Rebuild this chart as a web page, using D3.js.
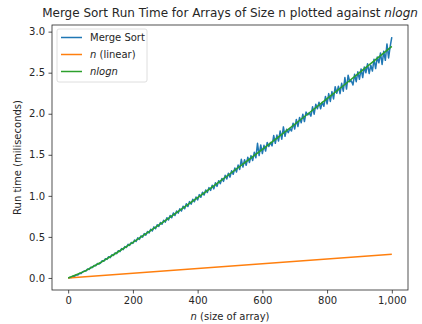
<!DOCTYPE html>
<html>
<head>
<meta charset="utf-8">
<script src="https://cdn.jsdelivr.net/npm/d3@7"></script>
<style>
  body { margin: 0; background: #fff; }
  svg text { font-family: "DejaVu Sans", sans-serif; fill: #262626; }
</style>
</head>
<body>
<div id="chart"></div>
<script>
// n values for the merge sort samples (every 5)
const sortN = d3.range(0, 1001, 5)
const sortTime = [
  0.000, 0.006, 0.007, 0.021, 0.020, 0.038, 0.037, 0.056, 0.055, 0.075,
  0.086, 0.084, 0.108, 0.104, 0.131, 0.127, 0.153, 0.148, 0.175, 0.170,
  0.180, 0.210, 0.203, 0.234, 0.226, 0.259, 0.248, 0.282, 0.274, 0.306,
  0.296, 0.332, 0.320, 0.358, 0.345, 0.382, 0.371, 0.410, 0.396, 0.432,
  0.420, 0.462, 0.444, 0.488, 0.470, 0.512, 0.497, 0.540, 0.522, 0.566,
  0.548, 0.594, 0.572, 0.622, 0.600, 0.648, 0.628, 0.676, 0.655, 0.702,
  0.680, 0.734, 0.706, 0.760, 0.734, 0.792, 0.760, 0.815, 0.790, 0.842,
  0.815, 0.873, 0.842, 0.904, 0.870, 0.930, 0.898, 0.958, 0.928, 0.985,
  0.950, 1.015, 0.982, 1.045, 1.010, 1.072, 1.040, 1.100, 1.066, 1.128,
  1.085, 1.160, 1.115, 1.185, 1.148, 1.212, 1.176, 1.250, 1.205, 1.275,
  1.228, 1.305, 1.262, 1.340, 1.290, 1.375, 1.322, 1.445, 1.350, 1.440,
  1.372, 1.470, 1.405, 1.490, 1.430, 1.530, 1.465, 1.640, 1.490, 1.620,
  1.515, 1.615, 1.545, 1.650, 1.600, 1.650, 1.608, 1.735, 1.640, 1.740,
  1.668, 1.790, 1.690, 1.840, 1.725, 1.810, 1.770, 1.820, 1.790, 1.885,
  1.815, 1.930, 1.845, 1.955, 1.890, 1.995, 1.905, 2.020, 1.985, 2.010,
  1.970, 2.085, 1.995, 2.115, 2.060, 2.140, 2.060, 2.140, 2.090, 2.210,
  2.120, 2.245, 2.150, 2.270, 2.180, 2.330, 2.250, 2.335, 2.245, 2.370,
  2.275, 2.440, 2.300, 2.470, 2.390, 2.400, 2.350, 2.480, 2.390, 2.510,
  2.420, 2.545, 2.440, 2.570, 2.500, 2.610, 2.490, 2.590, 2.520, 2.665,
  2.550, 2.690, 2.620, 2.740, 2.600, 2.760, 2.650, 2.850, 2.680, 2.820,
  2.934
]

const linearN = [0, 1000]
const linearTime = [0, 0.289]

const nlognN = [0, 50, 100, 150, 200, 250, 300, 350, 400, 450, 500,
  550, 600, 650, 700, 750, 800, 850, 900, 950, 1000]
const nlognTime = [0, 0.080, 0.188, 0.307, 0.433, 0.563, 0.699, 0.837, 0.979, 1.122, 1.269,
  1.417, 1.567, 1.719, 1.872, 2.027, 2.183, 2.341, 2.500, 2.659, 2.820]

const xTicks = [0, 200, 400, 600, 800, 1000]
const yTicks = [0.0, 0.5, 1.0, 1.5, 2.0, 2.5, 3.0]

const width = 422, height = 324
const margin = { top: 25, right: 14, bottom: 34, left: 52 }
const iw = width - margin.left - margin.right
const ih = height - margin.top - margin.bottom

const svg = d3.select('#chart')
  .append('svg')
  .attr('width', width)
  .attr('height', height)

// matplotlib style 5% padding
const xPad = 0.05 * 1000
const yMax = d3.max(sortTime)
const yPad = 0.05 * yMax
const x = d3.scaleLinear().domain([-xPad, 1000 + xPad]).range([0, iw])
const y = d3.scaleLinear().domain([-yPad, yMax + yPad]).range([ih, 0])

const g = svg.append('g')
  .attr('transform', `translate(${margin.left},${margin.top})`)

const line = d3.line()
  .x(d => x(d[0]))
  .y(d => y(d[1]))

const series = [
  { name: 'sort', n: sortN, t: sortTime, color: '#1f77b4' },
  { name: 'linear', n: linearN, t: linearTime, color: '#ff7f0e' },
  { name: 'nlogn', n: nlognN, t: nlognTime, color: '#2ca02c' }
]

series.forEach(s => {
  g.append('path')
    .datum(s.n.map((v, i) => [v, s.t[i]]))
    .attr('fill', 'none')
    .attr('stroke', s.color)
    .attr('stroke-width', 1.5)
    .attr('stroke-linejoin', 'round')
    .attr('d', line)
})

// axes
const xAxis = g.append('g')
  .attr('transform', `translate(0,${ih})`)
  .call(d3.axisBottom(x).tickValues(xTicks).tickSize(3.5).tickPadding(3.5))
const yAxis = g.append('g')
  .call(d3.axisLeft(y).tickValues(yTicks).tickFormat(d3.format('.1f')).tickSize(3.5).tickPadding(3.5))

;[xAxis, yAxis].forEach(a => {
  a.select('.domain').remove()
  a.selectAll('.tick line').attr('stroke', '#262626').attr('stroke-width', 0.8)
  a.selectAll('.tick text').attr('font-size', 10).style('fill', '#262626')
    .attr('font-family', '"DejaVu Sans", sans-serif')
})

g.append('rect')
  .attr('width', iw)
  .attr('height', ih)
  .attr('fill', 'none')
  .attr('stroke', '#262626')
  .attr('stroke-width', 0.8)

// title
const title = svg.append('text')
  .attr('x', margin.left + iw / 2)
  .attr('y', 17)
  .attr('text-anchor', 'middle')
  .attr('font-size', 12)
title.append('tspan').text('Merge Sort Run Time for Arrays of Size n plotted against ')
title.append('tspan').attr('font-style', 'italic').text('nlogn')

// axis labels
const xl = svg.append('text')
  .attr('x', margin.left + iw / 2)
  .attr('y', 320)
  .attr('text-anchor', 'middle')
  .attr('font-size', 10)
xl.append('tspan').attr('font-style', 'italic').text('n')
xl.append('tspan').text(' (size of array)')

svg.append('text')
  .attr('transform', `translate(21,${margin.top + ih / 2}) rotate(-90)`)
  .attr('text-anchor', 'middle')
  .attr('font-size', 10)
  .text('Run time (miliseconds)')

// legend
const legend = svg.append('g').attr('transform', 'translate(57,29)')
legend.append('rect')
  .attr('width', 90)
  .attr('height', 53)
  .attr('rx', 2)
  .attr('fill', '#fff')
  .attr('fill-opacity', 0.8)
  .attr('stroke', '#d6d6d6')
  .attr('stroke-width', 0.8)

const labels = [
  [{ t: 'Merge Sort' }],
  [{ t: 'n', i: true }, { t: ' (linear)' }],
  [{ t: 'nlogn', i: true }]
]
labels.forEach((parts, k) => {
  const yy = 8.5 + k * 17
  legend.append('line')
    .attr('x1', 4).attr('x2', 25)
    .attr('y1', yy).attr('y2', yy)
    .attr('stroke', series[k].color)
    .attr('stroke-width', 1.5)
  const t = legend.append('text')
    .attr('x', 33)
    .attr('y', yy + 3.5)
    .attr('font-size', 10)
  parts.forEach(p => {
    t.append('tspan').attr('font-style', p.i ? 'italic' : null).text(p.t)
  })
})
</script>
</body>
</html>
